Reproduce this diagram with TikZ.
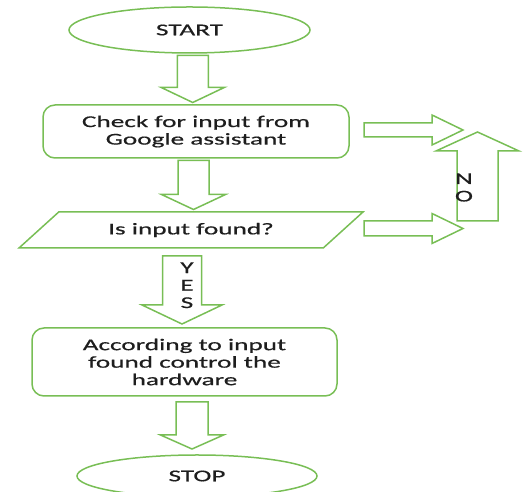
\documentclass[tikz,border=0pt]{standalone}
\usepackage{fontspec}
\setmainfont{Carlito}[FakeStretch=1.65, FakeBold=0.6]
\usetikzlibrary{shapes.geometric,calc}

\definecolor{flowgreen}{RGB}{120,190,85}
\definecolor{flowtext}{RGB}{30,30,30}

\tikzset{
  outline/.style={draw=flowgreen, line width=1.5pt},
  terminal/.style={outline, ellipse, inner sep=0pt},
  process/.style={outline, rectangle, rounded corners=12pt, align=center},
  decision/.style={outline, trapezium, trapezium left angle=27.6,
    trapezium right angle=152.4, trapezium stretches body},
  % hollow block arrow: length / shaft width / head width / head length
  pics/fatarrow/.style args={#1/#2/#3/#4}{code={
    \draw[outline, line join=miter] (-#1/2,-#2/2) -- (#1/2-#4,-#2/2)
      -- (#1/2-#4,-#3/2) -- (#1/2,0) -- (#1/2-#4,#3/2)
      -- (#1/2-#4,#2/2) -- (-#1/2,#2/2) -- cycle;
  }},
}

\begin{document}
\begin{tikzpicture}[x=1pt, y=1pt,
    every node/.style={text=flowtext, font=\fontsize{16.5}{17.5}\selectfont}]
    \useasboundingbox (0,0) rectangle (525,492);

    \node[terminal, minimum width=241pt, minimum height=46pt] (start) at (189.5,462) {START};
    \node[process, minimum width=306pt, minimum height=53pt] (check) at (196,360.5) {Check for input from\\Google assistant};
    \node[decision, minimum width=344pt, minimum height=36pt] (found) at (191,262) {Is input found?};
    \node[process, minimum width=305pt, minimum height=68pt] (act) at (184.5,130) {According to input\\found control the\\hardware};
    \node[terminal, minimum width=240pt, minimum height=42pt] (stop) at (197,16) {STOP};

    % main flow
    \pic[rotate=-90] at ($(start.south)!.5!(check.north)$) {fatarrow=47/31/63/15};
    \pic[rotate=-90] at ($(check.south)!.5!(found.north)$) {fatarrow=49/31/64/15};
    \pic[rotate=-90] at ($(found.south)!.5!(act.north)+(-5.75,-2)$) {fatarrow=68/39/80/19};
    \pic[rotate=-90] at ($(act.south)!.5!(stop.north)+(1.25,0)$) {fatarrow=47/32/63/14};

    % loop back when nothing is found
    \coordinate (back) at (477.5,315.5);
    \pic at ($(back)+(-64,46.5)$) {fatarrow=99/14/30/31};
    \pic at ($(back)+(-64,-52)$) {fatarrow=99/15/30/31};
    \pic[rotate=90] at (back) {fatarrow=89/41/83/19};

    \node[align=center, inner sep=0pt] (yes) at ($(found.south)!.5!(act.north)+(-0.75,2.7)$) {Y\\E\\S};
    \node[align=center, inner sep=0pt] (no) at ($(back)+(-13.5,-11)$) {N\\O};
\end{tikzpicture}
\end{document}
